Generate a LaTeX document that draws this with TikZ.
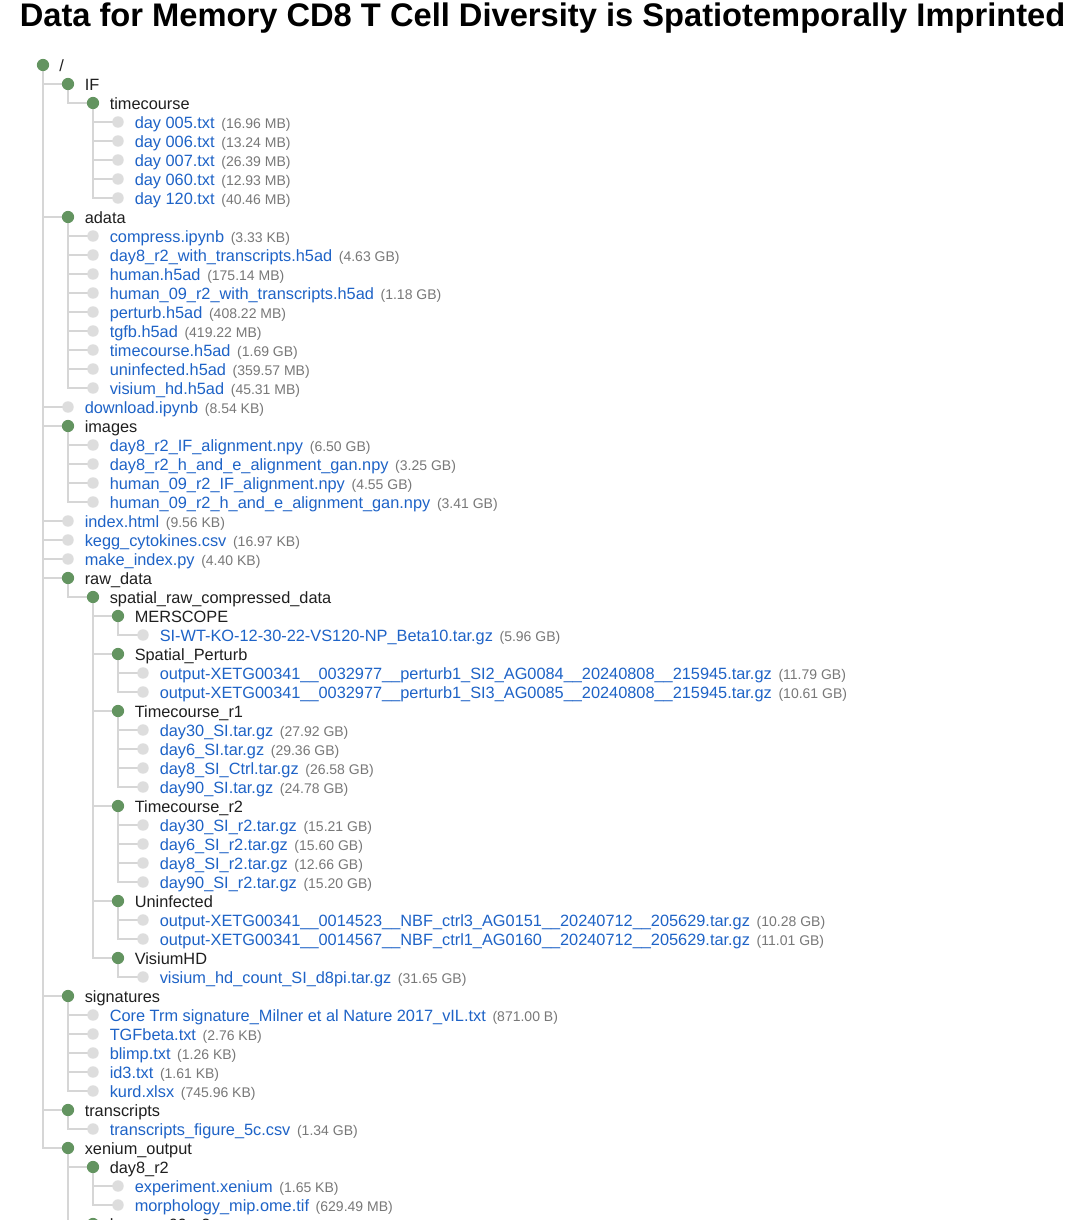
\documentclass[tikz,border=0pt]{standalone}
\usepackage{fontspec}
\setmainfont{Liberation Sans}
\usetikzlibrary{positioning,backgrounds}

\definecolor{dirgreen}{RGB}{99,148,96}
\definecolor{filegrey}{RGB}{221,221,221}
\definecolor{linegrey}{RGB}{214,214,214}
\definecolor{linkblue}{RGB}{30,99,199}
\definecolor{sizegrey}{RGB}{120,120,120}

\begin{document}
\begin{tikzpicture}[x=0.75pt, y=-0.75pt,
    dirdot/.style={circle, fill=dirgreen, minimum size=9.2pt, inner sep=0pt},
    filedot/.style={circle, fill=filegrey, minimum size=8.6pt, inner sep=0pt},
    dirname/.style={anchor=base west, inner sep=0pt, text=black!88, font=\fontsize{12.25}{14}\selectfont},
    filename/.style={anchor=base west, inner sep=0pt, text=linkblue, font=\fontsize{12.25}{14}\selectfont},
    fsize/.style={inner sep=0pt, text=sizegrey, font=\fontsize{10.5}{12}\selectfont},
    branch/.style={draw=linegrey, line width=1.5pt}]
    \useasboundingbox (0,0) rectangle (1080,1220);
    \clip (0,0) rectangle (1080,1220);

    % Title
    \node[anchor=base west, inner sep=0pt, font=\bfseries\fontsize{24.5}{28}\selectfont] (title) at (19.5,27)
        {Data for Memory CD8 T Cell Diversity is Spatiotemporally Imprinted};

    % Root folder
    \node[dirdot] (r0) at (43,65) {};
    \node[dirname] (t0) at (59,71.5) {/};

    % Folders: row / depth / name
    \foreach \i/\d/\t in {1/1/IF, 2/2/timecourse, 8/1/adata, 19/1/images, 27/1/raw\_data,
        28/2/spatial\_raw\_compressed\_data, 29/3/MERSCOPE, 31/3/Spatial\_Perturb,
        34/3/Timecourse\_r1, 39/3/Timecourse\_r2, 44/3/Uninfected, 47/3/VisiumHD,
        49/1/signatures, 55/1/transcripts, 57/1/xenium\_output, 58/2/day8\_r2, 61/2/human\_09\_r2}
    {
        \node[dirdot] (r\i) at ({43+25*\d},{65+19*\i}) {};
        \node[dirname] (t\i) at ({59.5+25*\d},{71.5+19*\i}) {\t};
    }

    % Files: row / depth / name / size
    \foreach \i/\d/\t/\sz in {
        3/3/day 005.txt/(16.96 MB), 4/3/day 006.txt/(13.24 MB), 5/3/day 007.txt/(26.39 MB),
        6/3/day 060.txt/(12.93 MB), 7/3/day 120.txt/(40.46 MB),
        9/2/compress.ipynb/(3.33 KB), 10/2/day8\_r2\_with\_transcripts.h5ad/(4.63 GB),
        11/2/human.h5ad/(175.14 MB), 12/2/human\_09\_r2\_with\_transcripts.h5ad/(1.18 GB),
        13/2/perturb.h5ad/(408.22 MB), 14/2/tgfb.h5ad/(419.22 MB),
        15/2/timecourse.h5ad/(1.69 GB), 16/2/uninfected.h5ad/(359.57 MB),
        17/2/visium\_hd.h5ad/(45.31 MB), 18/1/download.ipynb/(8.54 KB),
        20/2/day8\_r2\_IF\_alignment.npy/(6.50 GB),
        21/2/day8\_r2\_h\_and\_e\_alignment\_gan.npy/(3.25 GB),
        22/2/human\_09\_r2\_IF\_alignment.npy/(4.55 GB),
        23/2/human\_09\_r2\_h\_and\_e\_alignment\_gan.npy/(3.41 GB),
        24/1/index.html/(9.56 KB), 25/1/kegg\_cytokines.csv/(16.97 KB),
        26/1/make\_index.py/(4.40 KB),
        30/4/SI-WT-KO-12-30-22-VS120-NP\_Beta10.tar.gz/(5.96 GB),
        32/4/output-XETG00341\_\_0032977\_\_perturb1\_SI2\_AG0084\_\_20240808\_\_215945.tar.gz/(11.79 GB),
        33/4/output-XETG00341\_\_0032977\_\_perturb1\_SI3\_AG0085\_\_20240808\_\_215945.tar.gz/(10.61 GB),
        35/4/day30\_SI.tar.gz/(27.92 GB), 36/4/day6\_SI.tar.gz/(29.36 GB),
        37/4/day8\_SI\_Ctrl.tar.gz/(26.58 GB), 38/4/day90\_SI.tar.gz/(24.78 GB),
        40/4/day30\_SI\_r2.tar.gz/(15.21 GB), 41/4/day6\_SI\_r2.tar.gz/(15.60 GB),
        42/4/day8\_SI\_r2.tar.gz/(12.66 GB), 43/4/day90\_SI\_r2.tar.gz/(15.20 GB),
        45/4/output-XETG00341\_\_0014523\_\_NBF\_ctrl3\_AG0151\_\_20240712\_\_205629.tar.gz/(10.28 GB),
        46/4/output-XETG00341\_\_0014567\_\_NBF\_ctrl1\_AG0160\_\_20240712\_\_205629.tar.gz/(11.01 GB),
        48/4/visium\_hd\_count\_SI\_d8pi.tar.gz/(31.65 GB),
        50/2/Core Trm signature\_Milner et al Nature 2017\_vIL.txt/(871.00 B),
        51/2/TGFbeta.txt/(2.76 KB), 52/2/blimp.txt/(1.26 KB), 53/2/id3.txt/(1.61 KB),
        54/2/kurd.xlsx/(745.96 KB), 56/2/transcripts\_figure\_5c.csv/(1.34 GB),
        59/3/experiment.xenium/(1.65 KB), 60/3/morphology\_mip.ome.tif/(629.49 MB)}
    {
        \node[filedot] (r\i) at ({43+25*\d},{65+19*\i}) {};
        \node[filename] (t\i) at ({59.5+25*\d},{71.5+19*\i}) {\t};
        \node[fsize, base right=4.6pt of t\i] (s\i) {\sz};
    }

    % Tree branches, behind the dots
    \begin{scope}[on background layer]
        \fill[white] (0,0) rectangle (1080,1220);
        \foreach \c in {1,8,18,19,24,25,26,27,49,55,57} \draw[branch] (r0.center) |- (r\c.center);
        \draw[branch] (r1.center) |- (r2.center);
        \foreach \c in {3,...,7} \draw[branch] (r2.center) |- (r\c.center);
        \foreach \c in {9,...,17} \draw[branch] (r8.center) |- (r\c.center);
        \foreach \c in {20,...,23} \draw[branch] (r19.center) |- (r\c.center);
        \draw[branch] (r27.center) |- (r28.center);
        \foreach \c in {29,31,34,39,44,47} \draw[branch] (r28.center) |- (r\c.center);
        \draw[branch] (r29.center) |- (r30.center);
        \foreach \c in {32,33} \draw[branch] (r31.center) |- (r\c.center);
        \foreach \c in {35,...,38} \draw[branch] (r34.center) |- (r\c.center);
        \foreach \c in {40,...,43} \draw[branch] (r39.center) |- (r\c.center);
        \foreach \c in {45,46} \draw[branch] (r44.center) |- (r\c.center);
        \draw[branch] (r47.center) |- (r48.center);
        \foreach \c in {50,...,54} \draw[branch] (r49.center) |- (r\c.center);
        \draw[branch] (r55.center) |- (r56.center);
        \foreach \c in {58,61} \draw[branch] (r57.center) |- (r\c.center);
        \foreach \c in {59,60} \draw[branch] (r58.center) |- (r\c.center);
    \end{scope}
\end{tikzpicture}
\end{document}
